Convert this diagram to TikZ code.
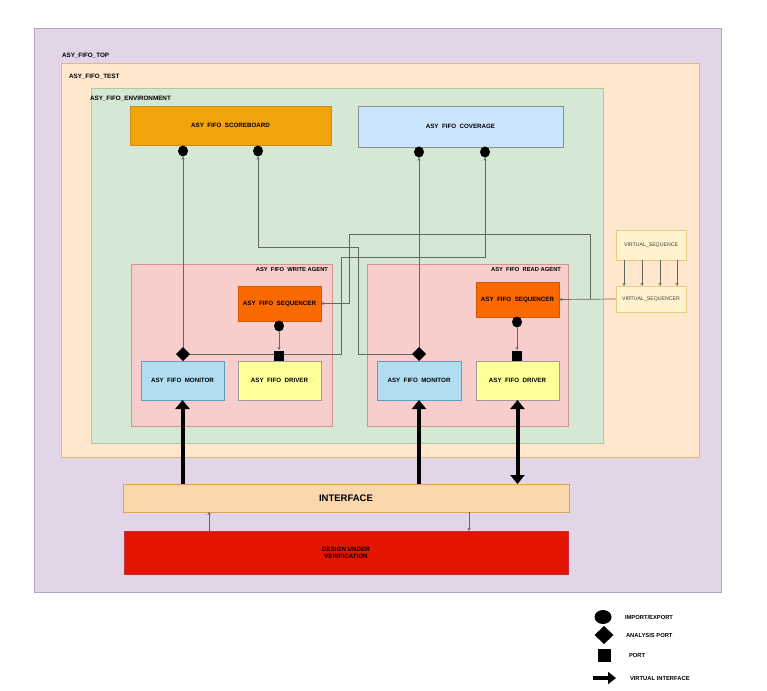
\documentclass[tikz,border=0pt]{standalone}
\usepackage{fontspec}
\setmainfont{Liberation Sans}
\usetikzlibrary{arrows.meta,shapes.geometric}

\definecolor{topfill}{HTML}{E1D5E7}\definecolor{topline}{HTML}{B9A3C4}
\definecolor{testfill}{HTML}{FFE6CC}\definecolor{testline}{HTML}{E6B77A}
\definecolor{envfill}{HTML}{D5E8D4}\definecolor{envline}{HTML}{A9CC98}
\definecolor{sbfill}{HTML}{F0A30A}\definecolor{sbline}{HTML}{C98A20}
\definecolor{cvfill}{HTML}{CCE5FF}\definecolor{cvline}{HTML}{8A9096}
\definecolor{agfill}{HTML}{F8CECC}\definecolor{agline}{HTML}{D49290}
\definecolor{sqfill}{HTML}{FA6800}\definecolor{sqline}{HTML}{D8560A}
\definecolor{monfill}{HTML}{B1DDF0}\definecolor{monline}{HTML}{5C9EC0}
\definecolor{drvfill}{HTML}{FFFF99}\definecolor{drvline}{HTML}{A09A9A}
\definecolor{vsfill}{HTML}{FFF2CC}\definecolor{vsline}{HTML}{E8CD80}
\definecolor{iffill}{HTML}{FAD7AC}\definecolor{ifline}{HTML}{DDA25C}
\definecolor{duvfill}{HTML}{E51400}\definecolor{duvline}{HTML}{C0303A}
\definecolor{wire}{HTML}{5F6A5F}

\begin{document}
\begin{tikzpicture}[x=1pt,y=-1pt,
  every node/.style={inner sep=0pt,outer sep=0pt},
  box/.style={rectangle,anchor=north west,line width=0.9pt,align=center,
    font=\fontsize{6.2}{7.2}\bfseries\selectfont},
  frame/.style={rectangle,anchor=north west,line width=1pt},
  tag/.style={anchor=west,font=\fontsize{6.3}{7}\bfseries\selectfont},
  dot/.style={ellipse,fill=black,minimum width=10pt,minimum height=11pt},
  dia/.style={diamond,fill=black,minimum width=14pt,minimum height=14pt},
  sq/.style={rectangle,fill=black,minimum size=10pt},
  conn/.style={draw=wire,line width=0.7pt},
  tip/.style={-{Stealth[length=3pt,width=3pt]}},
  vif/.style={line width=4pt,-{Triangle[width=14pt,length=9pt]}},
  vif2/.style={line width=4pt,{Triangle[width=14pt,length=9pt]}-{Triangle[width=14pt,length=9pt]}},
  lgtext/.style={anchor=west,font=\fontsize{5.8}{6.5}\bfseries\selectfont}]

\useasboundingbox[fill=white] (0,0) rectangle (767,690);

% nested frames
\node[frame,fill=topfill,draw=topline,minimum width=687pt,minimum height=563pt] (top) at (34,29) {};
\node[tag] (toptag) at (62,56) {ASY\_FIFO\_TOP};
\node[frame,fill=testfill,draw=testline,minimum width=638pt,minimum height=393pt] (test) at (61,64) {};
\node[tag] (testtag) at (69,77) {ASY\_FIFO\_TEST};
\node[frame,fill=envfill,draw=envline,minimum width=512pt,minimum height=354pt] (env) at (91,89) {};
\node[tag] (envtag) at (90,99) {ASY\_FIFO\_ENVIRONMENT};

% environment components
\node[box,fill=sbfill,draw=sbline,minimum width=201pt,minimum height=39pt] (sb) at (130,106) {ASY\ \ FIFO\ \ SCOREBOARD};
\node[box,fill=cvfill,draw=cvline,minimum width=205pt,minimum height=41pt] (cv) at (358,106) {ASY\ \ FIFO\ \ COVERAGE};

% write agent
\node[frame,fill=agfill,draw=agline,minimum width=201pt,minimum height=162pt] (wag) at (131,264) {};
\node[anchor=north east,font=\fontsize{5.8}{6.5}\bfseries\selectfont] (wagtag) at (328,267) {ASY\ \ FIFO\ \ WRITE AGENT};
\node[box,fill=sqfill,draw=sqline,minimum width=83pt,minimum height=35pt] (wseq) at (238,286) {ASY\ \ FIFO\ \ SEQUENCER};
\node[box,fill=monfill,draw=monline,minimum width=83pt,minimum height=39pt] (wmon) at (141,361) {ASY\ \ FIFO\ \ MONITOR};
\node[box,fill=drvfill,draw=drvline,minimum width=83pt,minimum height=39pt] (wdrv) at (238,361) {ASY\ \ FIFO\ \ DRIVER};

% read agent
\node[frame,fill=agfill,draw=agline,minimum width=201pt,minimum height=162pt] (rag) at (367,264) {};
\node[anchor=north east,font=\fontsize{5.8}{6.5}\bfseries\selectfont] (ragtag) at (561,267) {ASY\ \ FIFO\ \ READ AGENT};
\node[box,fill=sqfill,draw=sqline,minimum width=83pt,minimum height=35pt] (rseq) at (476,282) {ASY\ \ FIFO\ \ SEQUENCER};
\node[box,fill=monfill,draw=monline,minimum width=84pt,minimum height=39pt] (rmon) at (377,361) {ASY\ \ FIFO\ \ MONITOR};
\node[box,fill=drvfill,draw=drvline,minimum width=83pt,minimum height=39pt] (rdrv) at (476,361) {ASY\ \ FIFO\ \ DRIVER};

% virtual sequence / sequencer
\node[box,fill=vsfill,draw=vsline,minimum width=70pt,minimum height=30pt] (vseq) at (616,230) {\textmd{\fontsize{5.2}{6}\selectfont\color{black!75}VIRTUAL\_SEQUENCE}};
\node[box,fill=vsfill,draw=vsline,minimum width=70pt,minimum height=26pt] (vseqr) at (616,286) {\textmd{\fontsize{5.2}{6}\selectfont\color{black!75}VIRTUAL\_SEQUENCER}};

% interface and DUV
\node[box,fill=iffill,draw=ifline,minimum width=446pt,minimum height=28pt,font=\fontsize{9.5}{10}\bfseries\selectfont] (iface) at (123,484) {INTERFACE};
\node[box,fill=duvfill,draw=duvline,minimum width=444pt,minimum height=43pt] (duv) at (124,531) {DESIGN UNDER\\VERIFICATION};

% ports
\node[dot] (sbA) at (183,151) {};
\node[dot] (sbB) at (258,151) {};
\node[dot] (cvA) at (419,152) {};
\node[dot] (cvB) at (485,152) {};
\node[dot] (wsD) at (279,326) {};
\node[dot] (rsD) at (517,322) {};

% routing points
\coordinate (b1) at (358,247);
\coordinate (b2) at (341,257);
\coordinate (b3) at (590,234);
\coordinate (b4) at (349,234);
\coordinate (b5) at (590,299);

% analysis-port connections (drawn under the port markers)
\draw[conn,tip] (183,354) -- (sbA.south);
\draw[conn,tip] (419,354) -- (358,354) -- (b1) -| (sbB.south);
\draw[conn,tip] (419,354) -- (cvA.south);
\draw[conn,tip] (183,354) -- (341,354) -- (b2) -| (cvB.south);

% sequencer connections
\draw[conn,tip] (vseqr.west) -- (rseq.east);
\draw[conn,tip] (b5) -- (b3) -- (b4) |- (wseq.east);
\draw[conn,tip] (wsD.south) -- (279,350);
\draw[conn,tip] (rsD.south) -- (517,350);
\foreach \xx in {624,642,660,677}
  \draw[conn,tip] (\xx,260) -- (\xx,286);

\node[dia] (wmD) at (183,354) {};
\node[dia] (rmD) at (419,354) {};
\node[sq] (wdS) at (279,356) {};
\node[sq] (rdS) at (517,356) {};

% virtual interfaces
\draw[vif] (wmon.south |- iface.north) -- (wmon.south);
\draw[vif] (rmon.south |- iface.north) -- (rmon.south);
\draw[vif2] (rdrv.south) -- (rdrv.south |- iface.north);

% DUV <-> interface
\coordinate (d1) at (209,531);
\coordinate (i1) at (209,512);
\coordinate (d2) at (469,531);
\coordinate (i2) at (469,512);
\draw[conn,tip] (d1) -- (i1);
\draw[conn,tip] (i2) -- (d2);

% legend
\node[ellipse,fill=black,minimum width=17pt,minimum height=14pt] (lgA) at (603,617) {};
\node[lgtext] (lgAt) at (625,617) {IMPORT/EXPORT};
\node[diamond,fill=black,minimum width=19pt,minimum height=18pt] (lgB) at (604,635) {};
\node[lgtext] (lgBt) at (626,635) {ANALYSIS PORT};
\node[rectangle,fill=black,minimum size=13pt] (lgC) at (604,655) {};
\node[lgtext] (lgCt) at (629,655) {PORT};
\coordinate (lgD0) at (593,678);
\coordinate (lgD1) at (616,678);
\draw[line width=4pt,-{Triangle[width=12pt,length=8pt]}] (lgD0) -- (lgD1);
\node[lgtext] (lgDt) at (630,678) {VIRTUAL INTERFACE};
\end{tikzpicture}
\end{document}
